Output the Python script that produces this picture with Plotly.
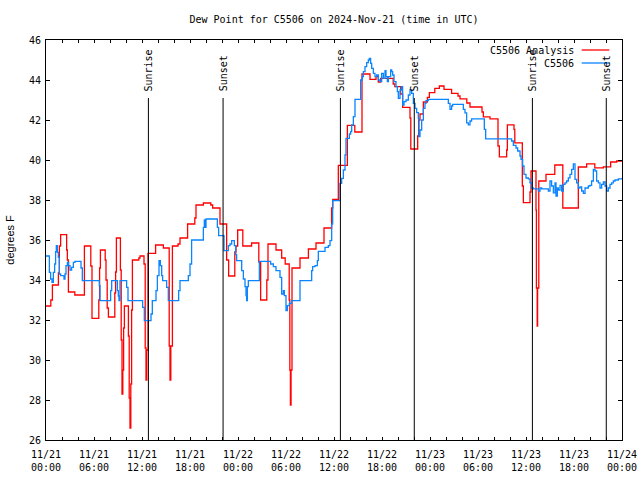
import plotly.graph_objects as go
import pandas as pd

# ---------------- data ----------------
title_text = "Dew Point for C5506 on 2024-Nov-21 (time in UTC)"
start_time = "2024-11-21 00:00"

red_name = "C5506 Analysis"
red_hours = [0.0, 0.6, 0.8, 1.55, 1.67, 1.83, 2.58, 2.67, 2.8, 3.6, 4.8, 5.6, 5.75, 6.6, 6.7, 6.8,
             7.4, 7.5, 7.65, 7.8, 8.6, 8.7, 8.8, 9.3, 9.4, 9.5, 9.6, 9.7, 9.8, 10.3, 10.4, 10.5,
             10.6, 10.7, 10.8, 11.6, 11.75, 12.25, 12.4, 12.5, 12.6, 12.75, 13.7, 14.67, 15.4,
             15.5, 15.6, 15.8, 16.5, 16.75, 17.7, 18.6, 18.75, 19.67, 20.6, 20.83, 21.75, 22.58,
             22.83, 23.6, 23.75, 23.96, 24.6, 25.7, 26.6, 26.83, 27.6, 27.75, 28.75, 29.46, 29.9,
             30.4, 30.48, 30.55, 30.63, 30.75, 31.75, 32.8, 33.75, 34.75, 35.7, 35.85, 36.54,
             37.67, 38.6, 39.5, 40.5, 41.25, 41.54, 41.83, 43.4, 43.6, 44.33, 44.58, 45.5, 45.6,
             46.46, 46.58, 46.75, 47.17, 47.67, 47.92, 48.6, 49.17, 49.75, 50.7, 51.5, 51.75,
             52.6, 53.0, 54.5, 54.67, 55.5, 56.5, 56.67, 57.58, 57.67, 58.5, 58.6, 59.54, 59.67,
             60.5, 60.625, 61.25, 61.3, 61.4, 61.45, 61.6, 62.5, 63.6, 64.6, 66.54, 67.58, 68.6,
             69.67, 70.58, 71.33, 72.0]
red_values = [32.7, 33.0, 33.75, 34.35, 35.7, 36.27, 35.5, 35.0, 33.4, 33.25, 35.7, 34.7, 32.08,
              33.0, 34.6, 35.5, 35.0, 34.0, 32.6, 32.15, 33.35, 34.4, 36.1, 34.5, 31.0, 28.3,
              29.5, 31.6, 32.7, 31.2, 28.1, 26.6, 28.8, 32.5, 35.0, 35.1, 35.2, 34.8, 30.6, 29.0,
              30.5, 35.33, 35.75, 35.6, 30.7, 29.0, 30.7, 35.7, 35.8, 36.1, 36.8, 37.1, 37.75,
              37.85, 37.75, 37.6, 36.8, 35.0, 34.2, 35.4, 35.7, 36.5, 35.7, 35.85, 34.9, 33.0,
              34.0, 35.8, 35.5, 35.1, 34.8, 33.0, 29.5, 27.75, 29.5, 34.6, 35.1, 35.55, 35.85,
              36.6, 37.6, 38.03, 39.73, 41.73, 41.4, 44.3, 44.03, 44.17, 43.9, 44.08, 43.8,
              43.67, 43.3, 42.63, 42.1, 40.55, 41.2, 42.0, 42.3, 42.9, 43.13, 43.37, 43.58, 43.7,
              43.53, 43.33, 43.2, 43.06, 42.85, 42.65, 42.4, 42.16, 42.06, 40.7, 40.16, 40.5,
              41.76, 41.53, 40.86, 38.7, 37.87, 38.4, 39.45, 37.5, 33.6, 31.7, 33.6, 38.95,
              39.28, 39.75, 37.6, 39.65, 39.81, 39.61, 39.66, 39.9, 39.95, 40.0]

blue_name = "C5506"
blue_hours = [0.0, 0.42, 0.58, 0.75, 0.92, 1.08, 1.2, 1.29, 1.42, 1.54, 1.67, 1.83, 2.25, 2.375,
              2.5, 2.67, 2.83, 3.0, 3.2, 3.42, 3.625, 4.375, 4.54, 6.67, 6.75, 8.08, 8.21, 8.92,
              9.04, 9.125, 9.25, 10.08, 10.25, 12.08, 12.29, 13.125, 13.29, 13.75, 13.92, 14.125,
              14.29, 14.46, 14.58, 15.08, 15.29, 16.58, 16.75, 17.79, 18.0, 18.2, 19.67, 19.79,
              19.875, 20.0, 21.42, 21.58, 22.25, 22.79, 23.0, 23.21, 23.54, 23.71, 23.83, 24.46,
              24.67, 24.875, 25.0, 25.08, 25.17, 25.29, 26.67, 28.08, 28.42, 28.75, 29.25, 29.46,
              29.67, 29.79, 30.0, 30.17, 30.42, 30.71, 31.75, 33.21, 33.33, 33.625, 33.92, 34.04,
              34.875, 35.29, 35.5, 35.71, 35.83, 36.75, 36.96, 37.17, 37.375, 37.5, 37.92, 38.08,
              38.21, 38.42, 38.625, 39.33, 39.54, 39.67, 39.875, 40.08, 40.29, 40.42, 40.58,
              40.71, 40.92, 41.125, 41.33, 41.54, 41.75, 41.96, 42.17, 42.375, 42.5, 42.67,
              42.79, 43.08, 43.21, 43.33, 43.5, 43.75, 43.92, 44.04, 44.25, 44.42, 44.58, 44.75,
              45.0, 45.29, 45.5, 45.71, 45.92, 46.125, 46.33, 46.54, 46.625, 46.75, 46.96, 47.17,
              47.375, 47.5, 47.79, 50.29, 50.5, 50.7, 50.83, 52.17, 52.375, 52.58, 52.79, 53.0,
              53.2, 54.79, 54.96, 58.2, 58.42, 58.75, 58.96, 59.25, 59.375, 59.58, 59.75, 60.0,
              60.29, 60.5, 60.71, 60.92, 61.54, 61.75, 61.96, 62.79, 63.0, 63.2, 63.42, 63.625,
              63.75, 63.92, 64.04, 64.25, 64.46, 64.67, 64.875, 65.08, 65.29, 65.5, 65.71, 65.92,
              66.125, 66.33, 66.54, 66.75, 66.96, 67.17, 67.375, 67.79, 68.0, 68.2, 68.42,
              68.625, 68.83, 69.04, 69.25, 69.46, 69.67, 69.875, 70.08, 70.29, 70.5, 70.71,
              70.92, 71.125, 71.54, 72.0]
blue_values = [35.2, 34.38, 34.05, 33.88, 34.38, 34.8, 35.42, 35.72, 35.38, 35.13, 34.3, 34.22,
               34.05, 34.3, 34.72, 34.88, 34.72, 34.5, 34.63, 34.88, 34.93, 34.6, 33.97, 33.72,
               32.97, 33.47, 33.97, 33.47, 33.2, 32.97, 33.97, 33.63, 32.97, 32.63, 31.97, 32.3,
               32.97, 33.47, 34.22, 34.97, 34.72, 34.22, 33.97, 33.63, 32.97, 33.47, 33.97,
               34.22, 34.8, 36.0, 36.63, 37.0, 36.63, 37.05, 36.63, 36.22, 35.47, 35.72, 35.8,
               35.97, 35.72, 35.27, 34.97, 34.47, 34.05, 33.67, 33.22, 32.97, 33.67, 33.97,
               34.93, 34.8, 34.67, 34.47, 34.13, 33.3, 33.47, 33.22, 32.47, 32.72, 32.83, 32.97,
               33.97, 34.47, 34.67, 34.72, 34.97, 35.43, 35.63, 35.72, 35.97, 36.8, 37.97, 38.83,
               39.08, 39.5, 40.25, 41.08, 41.3, 41.42, 41.75, 42.17, 43.03, 44.0, 44.17, 44.42,
               44.67, 44.87, 45.0, 45.08, 44.83, 44.58, 44.33, 44.17, 44.25, 44.0, 43.92, 44.33,
               44.08, 44.47, 44.17, 43.92, 44.17, 44.5, 44.42, 44.25, 43.92, 43.67, 43.42, 43.08,
               43.5, 43.67, 42.75, 42.92, 43.0, 43.25, 43.5, 43.33, 42.83, 42.58, 42.37, 42.08,
               41.17, 41.5, 42.0, 42.58, 42.83, 42.97, 43.03, 42.83, 42.53, 42.7, 42.78, 42.53,
               42.36, 41.86, 41.76, 41.95, 42.06, 41.53, 41.06, 40.95, 40.73, 40.6, 40.45, 40.2,
               40.03, 39.7, 39.28, 39.1, 39.06, 38.86, 38.6, 38.56, 38.45, 38.6, 38.56, 38.45,
               38.95, 38.7, 38.36, 38.86, 38.2, 38.6, 38.5, 38.73, 38.45, 38.78, 38.86, 38.95,
               39.11, 39.28, 39.53, 39.81, 39.03, 38.86, 38.6, 38.66, 38.45, 38.33, 38.6, 38.7,
               38.73, 38.95, 39.53, 39.45, 38.95, 38.86, 38.6, 38.78, 38.9, 38.7, 38.45, 38.6,
               38.78, 38.86, 38.95, 39.0, 39.06, 39.1]

sun_labels = ["Sunrise", "Sunset", "Sunrise", "Sunset", "Sunrise", "Sunset"]
sun_times = ["2024-11-21 12:48", "2024-11-21 22:08", "2024-11-22 12:48",
             "2024-11-22 22:02", "2024-11-23 12:48", "2024-11-23 22:02"]

x_tick_vals = ["2024-11-21 00:00", "2024-11-21 06:00", "2024-11-21 12:00", "2024-11-21 18:00",
               "2024-11-22 00:00", "2024-11-22 06:00", "2024-11-22 12:00", "2024-11-22 18:00",
               "2024-11-23 00:00", "2024-11-23 06:00", "2024-11-23 12:00", "2024-11-23 18:00",
               "2024-11-24 00:00"]
x_tick_text = ["11/21<br>00:00", "11/21<br>06:00", "11/21<br>12:00", "11/21<br>18:00",
               "11/22<br>00:00", "11/22<br>06:00", "11/22<br>12:00", "11/22<br>18:00",
               "11/23<br>00:00", "11/23<br>06:00", "11/23<br>12:00", "11/23<br>18:00",
               "11/24<br>00:00"]
y_label = "degrees F"

# ---------------- figure ----------------
base = pd.Timestamp(start_time)
red_x = [base + pd.Timedelta(hours=h) for h in red_hours]
blue_x = [base + pd.Timedelta(hours=h) for h in blue_hours]

RED = "#ff0000"
BLUE = "#0a84ff"
MONO = "DejaVu Sans Mono"

fig = go.Figure()
fig.add_trace(go.Scatter(x=red_x, y=red_values, mode="lines", name=red_name,
                         line=dict(color=RED, width=1.3, shape="hv")))
fig.add_trace(go.Scatter(x=blue_x, y=blue_values, mode="lines", name=blue_name,
                         line=dict(color=BLUE, width=1.3, shape="hv")))

line_top = 0.855
for lab, t in zip(sun_labels, sun_times):
    fig.add_shape(type="line", xref="x", yref="paper", x0=t, x1=t, y0=0, y1=line_top,
                  line=dict(color="black", width=1), layer="above")
    fig.add_annotation(x=t, xref="x", y=line_top + 0.012, yref="paper", text=lab,
                       textangle=-90, showarrow=False, xanchor="center", yanchor="bottom",
                       font=dict(family=MONO, size=10, color="black"))

# legend drawn manually (sample to the right of the text, as in the original)
for i, (name, col) in enumerate([(red_name, RED), (blue_name, BLUE)]):
    yy = 0.975 - i * 0.0325
    fig.add_annotation(x=0.92, y=yy, xref="paper", yref="paper", text=name,
                       showarrow=False, xanchor="right", yanchor="middle",
                       font=dict(family=MONO, size=10, color="black"))
    fig.add_shape(type="line", xref="paper", yref="paper", x0=0.93, x1=0.978,
                  y0=yy, y1=yy, line=dict(color=col, width=1.3))

fig.add_annotation(x=-0.063, y=0.5, xref="paper", yref="paper", text=y_label,
                   textangle=-90, showarrow=False, xanchor="center", yanchor="middle",
                   font=dict(family="Liberation Sans", size=11, color="black"))

fig.update_layout(
    width=640, height=480, autosize=False,
    margin=dict(l=46, r=18, t=40, b=40, pad=0),
    paper_bgcolor="white", plot_bgcolor="white",
    showlegend=False,
    title=dict(text=title_text, xref="paper", x=0.5, xanchor="center",
               y=1 - 19 / 480, yanchor="middle",
               font=dict(family=MONO, size=10, color="black")),
    font=dict(family=MONO, size=10, color="black"),
)
fig.update_xaxes(
    type="date", range=[x_tick_vals[0], x_tick_vals[-1]], automargin=False,
    tickmode="array", tickvals=x_tick_vals, ticktext=x_tick_text,
    ticks="inside", ticklen=3, tickcolor="black", mirror="ticks",
    showline=True, linecolor="black", linewidth=1, showgrid=False, zeroline=False,
    minor=dict(dtick=2 * 3600 * 1000, tick0=x_tick_vals[0], ticks="inside",
               ticklen=3, tickcolor="black", showgrid=False),
    tickfont=dict(family=MONO, size=10, color="black"),
    ticklabelstandoff=5,
)
fig.update_yaxes(
    range=[26, 46], dtick=2, tick0=26, automargin=False,
    ticks="inside", ticklen=4, tickcolor="black", mirror="ticks",
    showline=True, linecolor="black", linewidth=1, showgrid=False, zeroline=False,
    tickfont=dict(family=MONO, size=10, color="black"),
    ticklabelstandoff=2,
)

fig.write_html("out.html", config={"displayModeBar": False},
               post_script="document.body.style.margin='0';document.body.style.padding='0';")
